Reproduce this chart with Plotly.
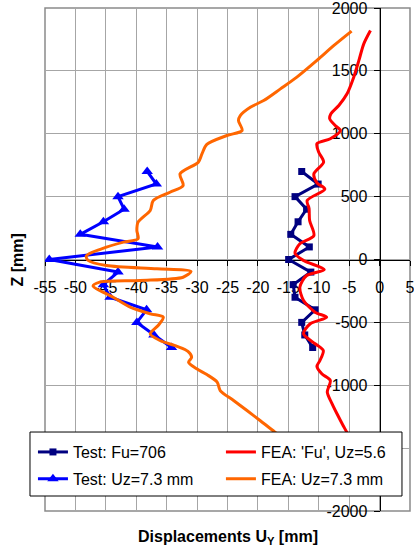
import plotly.graph_objects as go

# Measured lateral displacements along the height of the specimen
test_z = [700, 600, 500, 400, 300, 200, 100, 0, -100, -200, -300, -400, -500, -600, -700]
test_fu_uy = [-12.8, -10.1, -13.9, -12.0, -13.4, -14.6, -11.55, -14.95, -11.3, -14.2,
              -13.9, -10.6, -12.8, -12.3, -11.0]
test_uz_uy = [-38.2, -36.7, -43.0, -42.0, -45.4, -49.2, -36.5, -54.3, -43.0, -45.4,
              -44.3, -38.3, -39.9, -37.1, -34.2]

# FEA profile at the ultimate load ('Fu', Uz = 5.6 mm)
fea_fu_z = [1821, 1715, 1583, 1450, 1318, 1225, 1159, 1119, 1066, 1026, 960, 920, 853,
            774, 681, 610, 560, 470, 405, 310, 190, 125, 50, -8, -80, -127, -220, -326,
            -419, -459, -511, -591, -670, -724, -803, -850, -909, -962, -1055, -1148,
            -1227, -1320, -1373, -1500, -1650, -1820]
fea_fu_uy = [-1.5, -2.6, -3.4, -4.25, -5.35, -6.7, -8.0, -8.2, -7.3, -6.45, -8.1, -10.3,
             -10.0, -9.2, -10.8, -10.3, -9.0, -11.9, -11.6, -11.5, -10.8, -13.1, -13.9,
             -12.5, -9.1, -12.0, -13.1, -12.5, -10.6, -8.7, -11.4, -12.5, -10.6, -9.25,
             -9.8, -10.3, -9.5, -8.1, -8.6, -7.8, -7.0, -6.0, -5.4, -4.2, -3.0, -1.6]

# FEA profile at Uz = 7.3 mm
fea_uz_z = [1816, 1702, 1583, 1450, 1357, 1264, 1211, 1145, 1105, 1026, 986, 915, 840,
            774, 681, 588, 535, 469, 390, 297, 231, 165, 138, 85, 30, -8, -48, -74, -95,
            -141, -167, -180, -210, -300, -379, -432, -459, -525, -591, -644, -690, -730,
            -777, -817, -869, -915, -975, -1042, -1121, -1201, -1280, -1373, -1500, -1650,
            -1816]
fea_uz_uy = [-4.6, -7.5, -10.3, -13.6, -16.3, -19.05, -21.25, -22.9, -23.2, -22.6, -25.1,
             -28.4, -29.2, -29.8, -32.8, -32.3, -34.45, -37.2, -37.7, -39.7, -39.9, -39.7,
             -42.1, -45.7, -48.2, -47.9, -44.9, -36.6, -31.0, -32.3, -39.4, -46.0, -47.1,
             -43.8, -41.0, -37.7, -35.55, -36.4, -37.7, -36.1, -33.3, -31.5, -30.9, -31.4,
             -30.05, -28.4, -26.7, -26.2, -24.0, -21.8, -19.65, -17.2, -13.5, -9.5, -4.6]

x_ticks = list(range(-55, 6, 5))
z_ticks = list(range(-2000, 2001, 500))

FONT = "Liberation Sans, Arial, sans-serif"

fig = go.Figure()

fig.add_trace(go.Scatter(
    x=test_fu_uy, y=test_z, mode="lines+markers", name="Test: Fu=706",
    line=dict(color="#000080", width=3), marker=dict(symbol="square", size=7, color="#000080"),
    legend="legend", legendgroup="a"))
fig.add_trace(go.Scatter(
    x=test_uz_uy, y=test_z, mode="lines+markers", name="Test: Uz=7.3 mm",
    line=dict(color="#0000FF", width=3), marker=dict(symbol="triangle-up", size=10, color="#0000FF"),
    legend="legend", legendgroup="b"))
fig.add_trace(go.Scatter(
    x=fea_fu_uy, y=fea_fu_z, mode="lines", name="FEA: 'Fu', Uz=5.6",
    line=dict(color="#FF0000", width=3, shape="spline", smoothing=0.8),
    legend="legend2", legendgroup="c"))
fig.add_trace(go.Scatter(
    x=fea_uz_uy, y=fea_uz_z, mode="lines", name="FEA: Uz=7.3 mm",
    line=dict(color="#FF6600", width=3, shape="spline", smoothing=0.8),
    legend="legend2", legendgroup="d"))

grid = "#a6a6a6"
fig.update_layout(
    width=414, height=551,
    margin=dict(l=45, r=4, t=8, b=40, autoexpand=False),
    paper_bgcolor="white", plot_bgcolor="white",
    font=dict(family=FONT, size=16, color="black"),
    showlegend=True,
    xaxis=dict(
        range=[-55, 5], tickvals=x_ticks, ticktext=[str(v) for v in x_ticks],
        showgrid=True, gridcolor=grid, gridwidth=1, zeroline=False,
        showline=True, linecolor="black", linewidth=1,
        ticks="outside", ticklen=5, tickcolor="black",
        anchor="free", position=0.5, layer="below traces", automargin=False,
        ticklabelstandoff=8, ticklabeloverflow="allow", tickfont=dict(size=16),
    ),
    yaxis=dict(
        range=[-2000, 2000], tickvals=z_ticks, ticktext=[str(v) for v in z_ticks],
        showgrid=True, gridcolor=grid, gridwidth=1, zeroline=False,
        showline=True, linecolor="black", linewidth=1,
        ticks="outside", ticklen=6, tickcolor="black",
        anchor="free", position=55 / 60, side="left", layer="below traces", automargin=False,
        ticklabelstandoff=3, ticklabeloverflow="allow", tickfont=dict(size=16),
    ),
    legend=dict(
        x=-0.033, xanchor="left", y=0.151, yanchor="top",
        bgcolor="rgba(0,0,0,0)", borderwidth=0, tracegroupgap=3,
        font=dict(size=16), orientation="v",
    ),
    legend2=dict(
        x=0.482, xanchor="left", y=0.151, yanchor="top",
        bgcolor="rgba(0,0,0,0)", borderwidth=0, tracegroupgap=3,
        font=dict(size=16), orientation="v",
    ),
    shapes=[
        # plot frame
        dict(type="rect", xref="paper", yref="paper", x0=0, x1=1, y0=0, y1=1,
             line=dict(color="#8a8a8a", width=1.5), layer="below"),
        # legend box
        dict(type="rect", xref="paper", yref="paper", x0=-0.0411, x1=0.978,
             y0=0.0298, y1=0.157, fillcolor="white",
             line=dict(color="black", width=1), layer="above"),
    ],
    annotations=[
        dict(text="<b>Z [mm]</b>", xref="paper", yref="paper", x=-0.074, y=0.5,
             textangle=-90, showarrow=False, font=dict(size=16),
             xanchor="center", yanchor="middle"),
        dict(text="<b>Displacements U<sub>Y</sub> [mm]</b>", xref="paper", yref="paper",
             x=0.5, y=-0.0517, showarrow=False, font=dict(size=16),
             xanchor="center", yanchor="middle"),
    ],
)

fig.write_html("out.html")
